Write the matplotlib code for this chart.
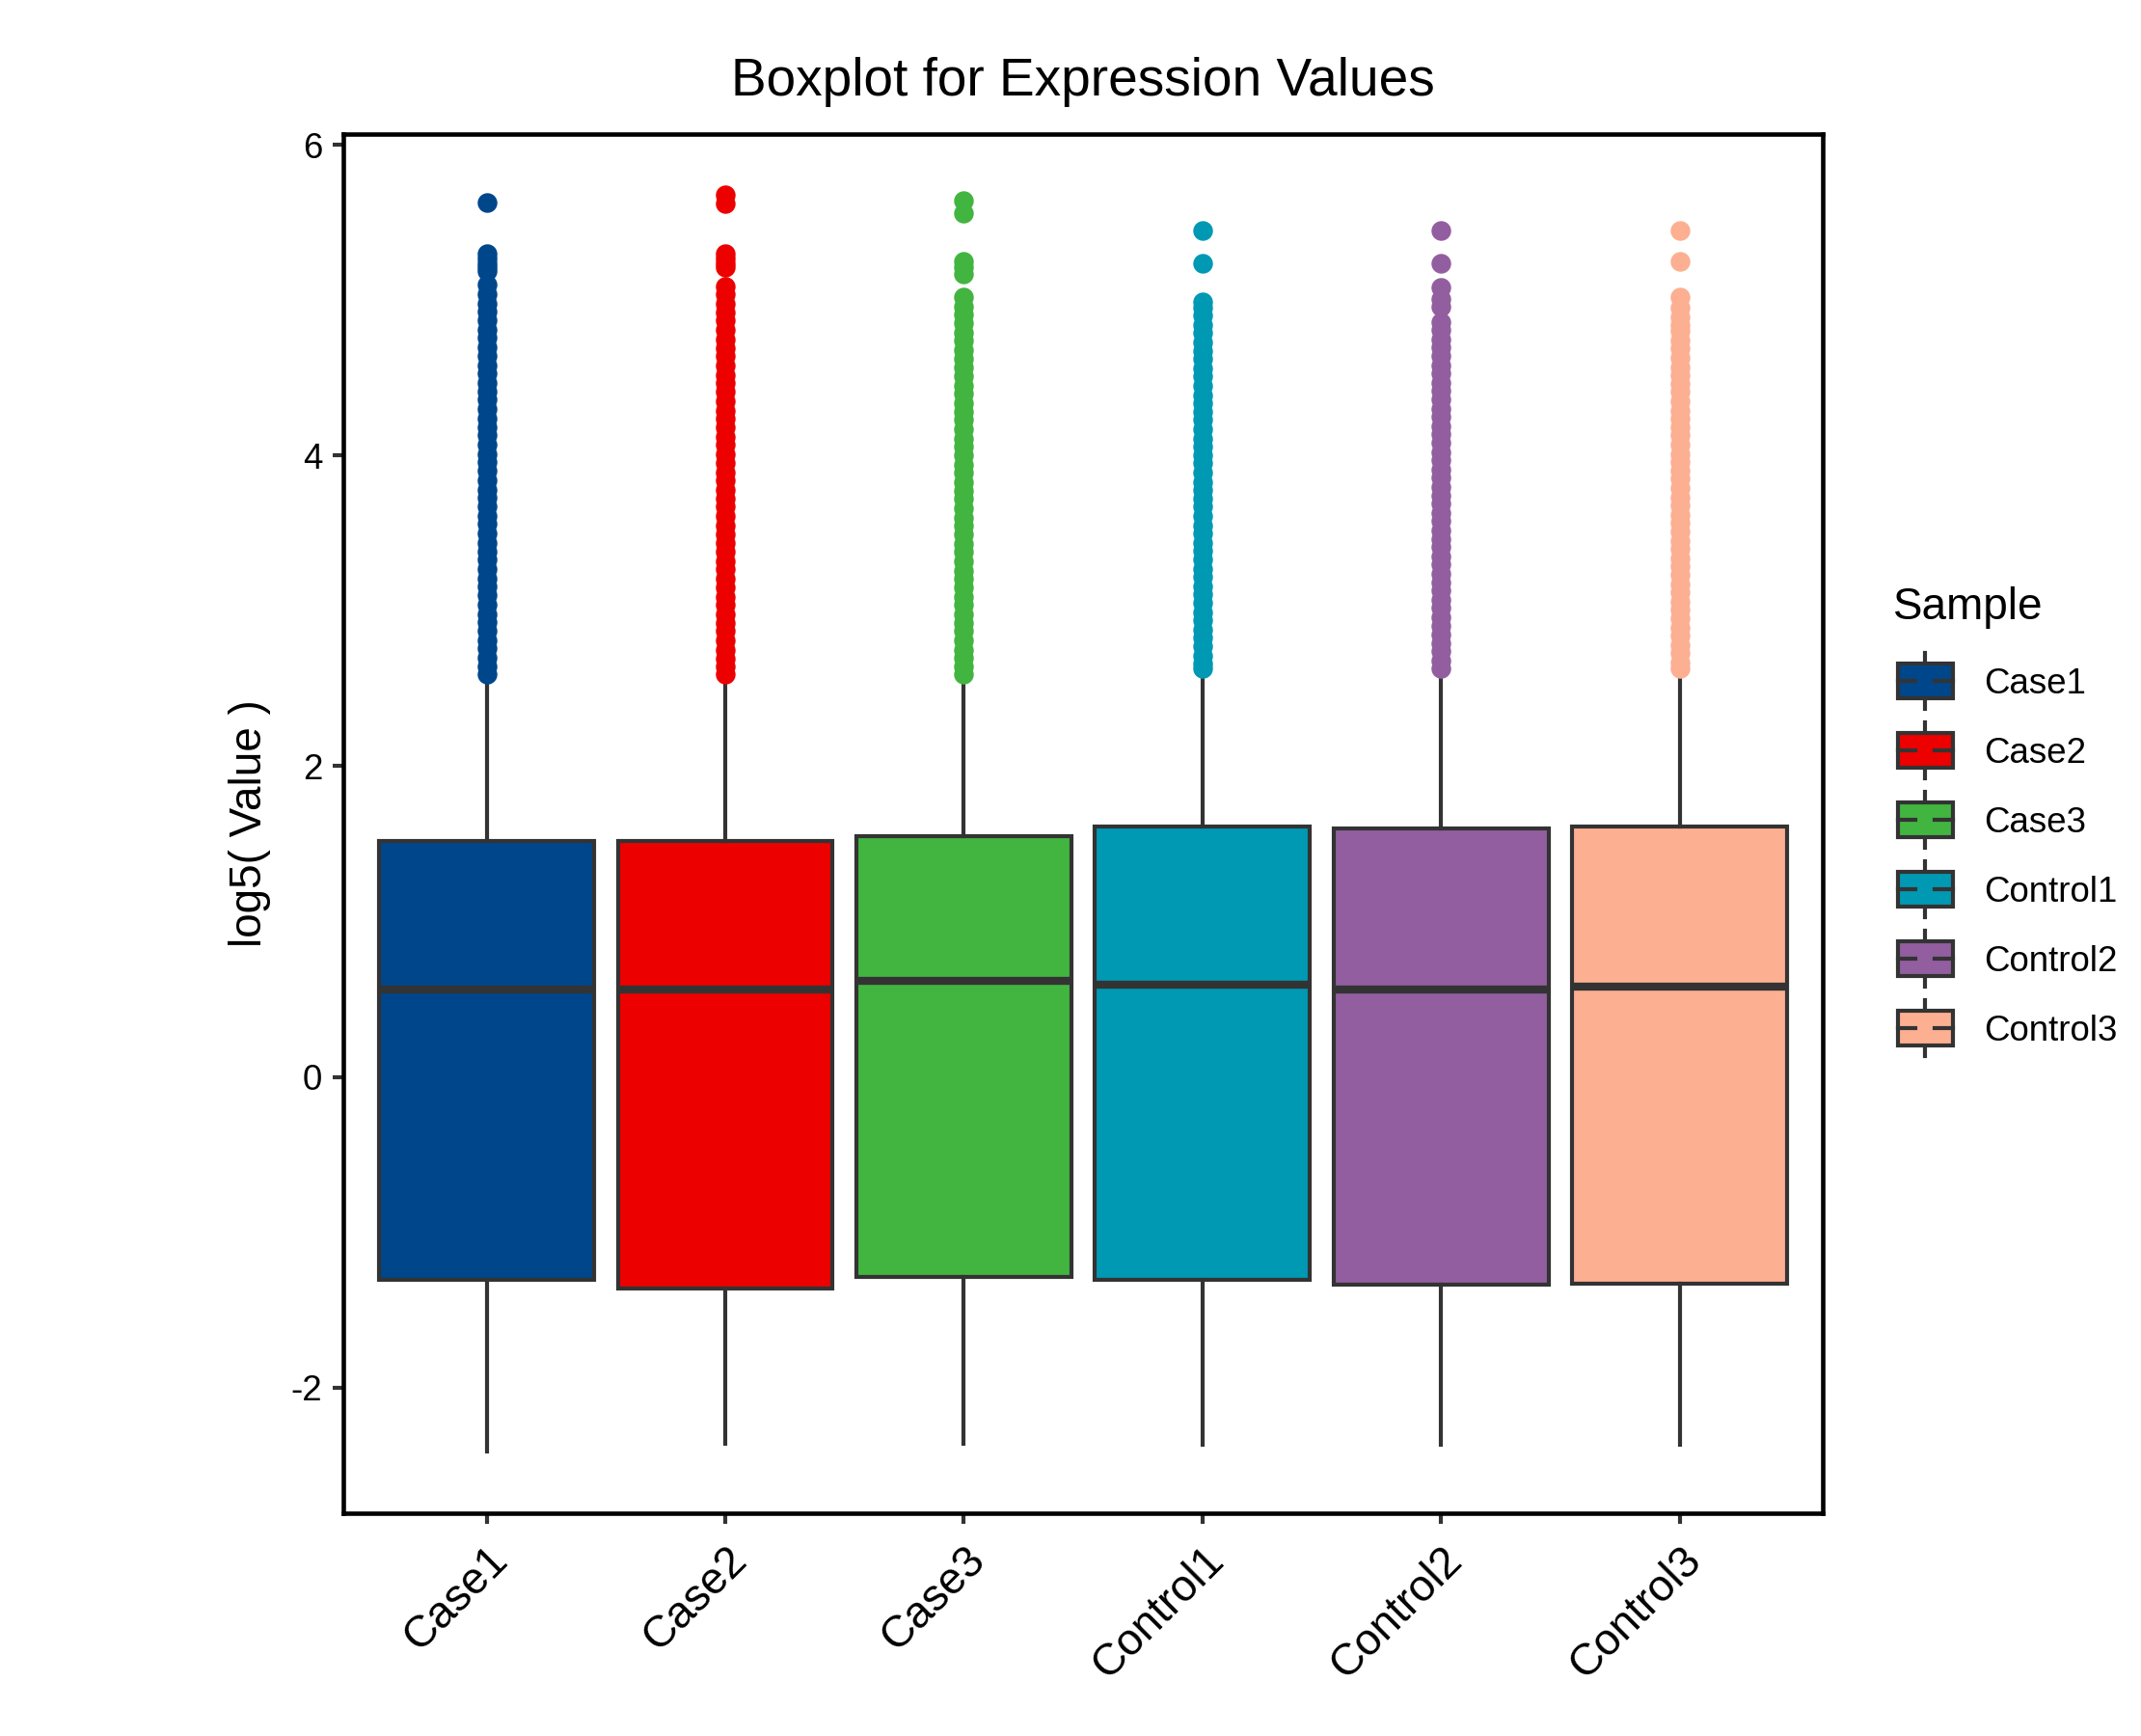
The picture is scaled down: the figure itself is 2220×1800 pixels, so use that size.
import matplotlib
matplotlib.use("Agg")
import matplotlib.pyplot as plt
from matplotlib.patches import Patch, Rectangle
from matplotlib.lines import Line2D
from matplotlib.legend_handler import HandlerBase

plt.rcParams['font.family'] = ['Liberation Sans', 'DejaVu Sans']
plt.rcParams['axes.unicode_minus'] = False

samples = ['Case1', 'Case2', 'Case3', 'Control1', 'Control2', 'Control3']
colors = ['#00468B', '#ED0000', '#42B540', '#0099B4', '#925E9F', '#FDAF91']

# box statistics (log5 scale)
q1 = [-1.31, -1.36, -1.29, -1.31, -1.34, -1.33]
med = [0.56, 0.56, 0.62, 0.59, 0.56, 0.58]
q3 = [1.52, 1.52, 1.55, 1.61, 1.60, 1.61]
whislo = [-2.41, -2.36, -2.36, -2.37, -2.37, -2.37]
whishi = [2.57, 2.57, 2.57, 2.61, 2.61, 2.61]

# outliers (the dense columns are many overlapping points)
out_case1 = [5.63, 5.30, 5.27, 5.24, 5.21, 5.19, 5.10,
             5.04, 4.98, 4.93, 4.87, 4.81, 4.76, 4.70, 4.64, 4.58, 4.53, 4.47,
             4.41, 4.36, 4.30, 4.24, 4.18, 4.13, 4.07, 4.01, 3.96, 3.90, 3.84,
             3.78, 3.73, 3.67, 3.61, 3.56, 3.50, 3.44, 3.38, 3.33, 3.27, 3.21,
             3.16, 3.10, 3.04, 2.98, 2.93, 2.87, 2.81, 2.76, 2.70, 2.64, 2.59]
out_case2 = [5.68, 5.62, 5.30, 5.27, 5.24, 5.21,
             5.09, 5.04, 4.98, 4.92, 4.87, 4.81, 4.75, 4.69, 4.64, 4.58, 4.52,
             4.47, 4.41, 4.35, 4.29, 4.24, 4.18, 4.12, 4.07, 4.01, 3.95, 3.89,
             3.84, 3.78, 3.72, 3.67, 3.61, 3.55, 3.49, 3.44, 3.38, 3.32, 3.27,
             3.21, 3.15, 3.09, 3.04, 2.98, 2.92, 2.87, 2.81, 2.75, 2.69, 2.64, 2.59]
out_case3 = [5.64, 5.56, 5.25, 5.21, 5.17,
             5.02, 4.96, 4.91, 4.85, 4.79, 4.74, 4.68, 4.62, 4.57, 4.51, 4.45,
             4.40, 4.34, 4.28, 4.23, 4.17, 4.11, 4.06, 4.00, 3.94, 3.89, 3.83,
             3.77, 3.72, 3.66, 3.60, 3.55, 3.49, 3.43, 3.38, 3.32, 3.26, 3.21,
             3.15, 3.09, 3.04, 2.98, 2.92, 2.87, 2.81, 2.75, 2.70, 2.64, 2.59]
out_ctrl1 = [5.45, 5.24,
             4.99, 4.95, 4.90, 4.84, 4.79, 4.73, 4.67, 4.62, 4.56, 4.51, 4.45,
             4.39, 4.34, 4.28, 4.23, 4.17, 4.11, 4.06, 4.00, 3.95, 3.89, 3.83,
             3.78, 3.72, 3.67, 3.61, 3.55, 3.50, 3.44, 3.39, 3.33, 3.27, 3.22,
             3.16, 3.11, 3.05, 2.99, 2.94, 2.88, 2.83, 2.77, 2.71, 2.66, 2.63]
out_ctrl2 = [5.45, 5.24, 5.08, 5.01, 4.96,
             4.86, 4.81, 4.75, 4.70, 4.64, 4.58, 4.53, 4.47, 4.42, 4.36, 4.30,
             4.25, 4.19, 4.14, 4.08, 4.02, 3.97, 3.91, 3.86, 3.80, 3.74, 3.69,
             3.63, 3.58, 3.52, 3.46, 3.41, 3.35, 3.30, 3.24, 3.18, 3.13, 3.07,
             3.02, 2.96, 2.90, 2.85, 2.79, 2.74, 2.68, 2.63]
out_ctrl3 = [5.45, 5.25, 5.02, 4.95, 4.89, 4.84,
             4.80, 4.74, 4.69, 4.63, 4.57, 4.52, 4.46, 4.41, 4.35, 4.29, 4.24,
             4.18, 4.13, 4.07, 4.01, 3.96, 3.90, 3.85, 3.79, 3.73, 3.68, 3.62,
             3.57, 3.51, 3.45, 3.40, 3.34, 3.29, 3.23, 3.17, 3.12, 3.06, 3.01,
             2.95, 2.89, 2.84, 2.78, 2.73, 2.67, 2.63]
outliers = [out_case1, out_case2, out_case3, out_ctrl1, out_ctrl2, out_ctrl3]

DARK = '#333333'

stats = []
for i, s in enumerate(samples):
    stats.append(dict(label=s, q1=q1[i], med=med[i], q3=q3[i],
                      whislo=whislo[i], whishi=whishi[i], fliers=outliers[i]))

fig = plt.figure(figsize=(7.4, 6), dpi=300)
ax = fig.add_axes([0.1604, 0.1283, 0.6910, 0.7945])

pos = list(range(1, len(samples) + 1))
bp = ax.bxp(stats, positions=pos, widths=0.9, patch_artist=True, showcaps=False,
            boxprops=dict(edgecolor=DARK, linewidth=1.0),
            medianprops=dict(color=DARK, linewidth=2.0, solid_capstyle='butt'),
            whiskerprops=dict(color=DARK, linewidth=1.0),
            flierprops=dict(marker='o', markersize=4.9, markeredgewidth=0,
                            linestyle='none'))
for box, fl, c in zip(bp['boxes'], bp['fliers'], colors):
    box.set_facecolor(c)
    fl.set_markerfacecolor(c)
    fl.set_markeredgecolor(c)

ax.set_xlim(0.4, 6.6)
ax.set_ylim(-2.81, 6.07)
ax.set_xticks(pos)
ax.set_xticklabels(samples, rotation=45, ha='right', va='top',
                   rotation_mode='anchor', fontsize=11)
ax.set_yticks([-2, 0, 2, 4, 6])
ax.tick_params(axis='both', length=2.75, width=1.0, color=DARK, labelcolor='black')
ax.tick_params(axis='y', labelsize=8.8, pad=2.5)
ax.tick_params(axis='x', pad=3.5)
for sp in ax.spines.values():
    sp.set_linewidth(1.1)
    sp.set_color('black')

ax.set_ylabel('log5( Value )', fontsize=11, labelpad=5)
ax.set_title('Boxplot for Expression Values', fontsize=13.2, pad=9.6)


class BoxKey(HandlerBase):
    # ggplot-like boxplot legend key, centred on the label's mid height
    def create_artists(self, legend, orig_handle, xdescent, ydescent,
                       width, height, fontsize, trans):
        x0 = -xdescent
        cy = 0.36 * fontsize
        s = 17.28
        fc = orig_handle.get_facecolor()
        rect = Rectangle((x0 + 0.1 * width, cy - 0.25 * s), 0.8 * width,
                         0.5 * s, facecolor=fc, edgecolor=DARK, lw=1.0,
                         transform=trans)
        xm = x0 + 0.5 * width
        w1 = Line2D([xm, xm], [cy + 0.25 * s, cy + 0.4 * s],
                    color=DARK, lw=1.0, transform=trans)
        w2 = Line2D([xm, xm], [cy - 0.4 * s, cy - 0.25 * s],
                    color=DARK, lw=1.0, transform=trans)
        m1 = Line2D([x0 + 0.1 * width, x0 + 0.36 * width], [cy, cy],
                    color=DARK, lw=1.0, transform=trans)
        m2 = Line2D([x0 + 0.64 * width, x0 + 0.9 * width], [cy, cy],
                    color=DARK, lw=1.0, transform=trans)
        return [w1, w2, rect, m1, m2]


handles = [Patch(facecolor=c) for c in colors]
fig.text(0.8842, 0.6433, 'Sample', fontsize=11, ha='left', va='baseline')
fig.legend(handles, samples, loc='upper left', bbox_to_anchor=(0.8831, 0.6267),
           frameon=False, fontsize=8.8, handlelength=1.96, handleheight=2.644,
           labelspacing=0, handletextpad=0.67, borderpad=0, borderaxespad=0,
           handler_map={Patch: BoxKey()})

fig.savefig('out.png', dpi=300, facecolor='white')
